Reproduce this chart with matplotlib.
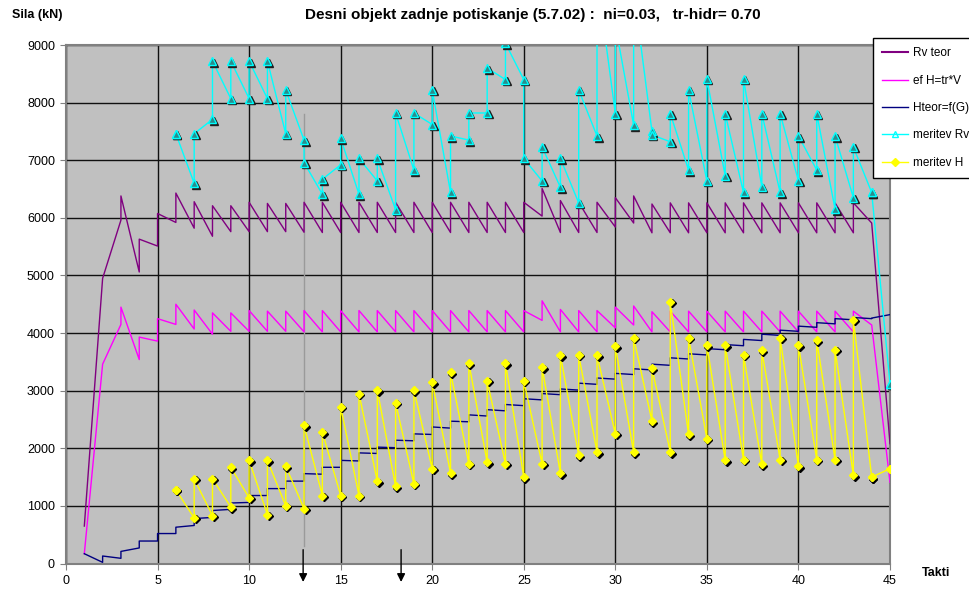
import matplotlib.pyplot as plt
from matplotlib.lines import Line2D
from matplotlib.transforms import offset_copy

plt.rcParams['font.family'] = ['Liberation Sans', 'DejaVu Sans']

# takti 1..45; for every takt the value reached and the value after the jump
takt = list(range(1, 46))

rv_in = [650, 4950, 5960, 5060, 5510, 5920, 5820, 5680, 5760, 5760, 5760, 5760, 5750,
         5745, 5745, 5745, 5745, 5745, 5745, 5745, 5745, 5745, 5745, 5745,
         5745, 6030, 5745, 5745, 5745, 5840, 5910, 5740,
         5740, 5740, 5740, 5740, 5740, 5740, 5740, 5740, 5740, 5740, 5740,
         5910, 2080]
rv_out = [650, 4950, 6380, 5630, 6075, 6430, 6280, 6210, 6210, 6270, 6250, 6250, 6270,
          6270, 6270, 6270, 6270, 6270, 6270, 6270, 6270, 6270, 6270, 6270,
          6270, 6510, 6300, 6270, 6270, 6350, 6380, 6240,
          6260, 6260, 6260, 6260, 6260, 6260, 6260, 6260, 6260, 6260, 6260,
          5910, 2080]

efh_in = [170, 3460, 4150, 3540, 3860, 4150, 4070, 3980, 4030, 4030, 4030, 4030, 4020,
          4020, 4020, 4020, 4020, 4020, 4020, 4020, 4020, 4020, 4020, 4020,
          4020, 4220, 4020, 4020, 4020, 4090, 4140, 4020,
          4020, 4020, 4020, 4020, 4020, 4020, 4020, 4020, 4020, 4020, 4020,
          4140, 1410]
efh_out = [170, 3460, 4450, 3930, 4250, 4500, 4400, 4350, 4350, 4390, 4380, 4380, 4390,
           4390, 4390, 4390, 4390, 4390, 4390, 4390, 4390, 4390, 4390, 4390,
           4390, 4560, 4410, 4390, 4390, 4450, 4470, 4370,
           4380, 4380, 4380, 4380, 4380, 4380, 4380, 4380, 4380, 4380, 4380,
           4140, 1410]

hteor_in = [170, 20, 90, 270, 390, 520, 660, 800, 940, 1060, 1180, 1300, 1430,
            1550, 1670, 1780, 1910, 2010, 2130, 2240, 2350, 2460, 2560, 2650,
            2740, 2840, 2930, 3010, 3110, 3200, 3280, 3360, 3440, 3550, 3620,
            3710, 3780, 3870, 3960, 4030, 4100, 4160, 4230, 4250, 4320]
hteor_out = [170, 130, 210, 390, 520, 630, 780, 920, 1050, 1180, 1300, 1430, 1560,
             1670, 1790, 1920, 2020, 2140, 2250, 2370, 2470, 2580, 2670, 2760,
             2860, 2950, 3030, 3130, 3220, 3300, 3380, 3460, 3570, 3640, 3730,
             3800, 3890, 3980, 4050, 4120, 4180, 4250, 4270, 4260, 4320]

# measurements, takti 6..45
meas_takt = list(range(6, 46))

mrv_in = [7460, 6600, 7710, 8070, 8070, 8070, 7460, 7350, 6410, 6920,
          6410, 6640, 6140, 6830, 7620, 6440, 7350, 7820, 8400, 8400,
          6640, 6530, 6260, 7420, 7810, 7610, 7500, 7320, 6830, 6640,
          6730, 6440, 6540, 6440, 6640, 6830, 6150, 6350, 6440, 3120]
mrv_out = [7460, 7460, 8720, 8720, 8720, 8720, 8220, 6960, 6670, 7380,
           7030, 7030, 7820, 7820, 8220, 7420, 7820, 8600, 9030, 7030,
           7230, 7030, 8220, 10190, 9350, 9970, 7440, 7810, 8220, 8410,
           7810, 8410, 7810, 7810, 7420, 7810, 7420, 7230, 6440, 3120]

mh_in = [1280, 790, 830, 980, 1140, 850, 1000, 950, 1180, 1180,
         1180, 1430, 1340, 1380, 1645, 1570, 1730, 1760, 1730, 1500,
         1730, 1565, 1880, 1935, 2250, 1935, 2470, 1935, 2240, 2165,
         1790, 1800, 1720, 1800, 1685, 1800, 1800, 1530, 1500, 1645]
mh_out = [1280, 1470, 1470, 1670, 1790, 1790, 1690, 2400, 2280, 2720,
          2950, 3010, 2790, 3010, 3150, 3320, 3480, 3170, 3480, 3170,
          3410, 3615, 3620, 3615, 3770, 3920, 3390, 4540, 3920, 3790,
          3790, 3625, 3700, 3920, 3790, 3875, 3710, 4235, 1500, 1645]

arrow_takt = [12.95, 18.3]


def saw(xs, a, b):
    x, y = [], []
    for k, p, q in zip(xs, a, b):
        x += [k, k]
        y += [p, q]
    return x, y


fig = plt.figure(figsize=(9.7, 5.9), dpi=100)
ax = fig.add_axes([66 / 970, 1 - 563.5 / 590, 824 / 970, 518.5 / 590])
ax.set_facecolor('#c0c0c0')

c_rv, c_ef, c_ht, c_mrv, c_mh = '#800080', '#ff00ff', '#000080', '#00ffff', '#ffff00'

# grey marker line at takt 13
ax.plot([13, 13], [7810, 300], color='#9a9a9a', lw=1, zorder=2)

x, y = saw(takt, rv_in, rv_out)
ax.plot(x, y, color=c_rv, lw=1, zorder=3)
x, y = saw(takt, efh_in, efh_out)
ax.plot(x, y, color=c_ef, lw=1, zorder=3)
x, y = saw(takt, hteor_in, hteor_out)
ax.plot(x, y, color=c_ht, lw=1, zorder=3)

# measured Rv: cyan triangles
x, y = saw(meas_takt, mrv_in, mrv_out)
shadow = offset_copy(ax.transData, fig=fig, x=1.5, y=-1.5, units='dots')
ax.plot(x, y, color=c_mrv, lw=1, zorder=4)
ax.plot(x, y, ls='none', marker='^', ms=5.5, mfc='#1f1f1f', mec='#1f1f1f',
        transform=shadow, zorder=4)
ax.plot(x, y, ls='none', marker='^', ms=5.5, mfc='#2a8c8c', mec=c_mrv, mew=1, zorder=5)

# measured H: yellow diamonds
x, y = saw(meas_takt, mh_in, mh_out)
ax.plot(x, y, color=c_mh, lw=1, zorder=4)
ax.plot(x, y, ls='none', marker='D', ms=4.2, mfc='k', mec='k',
        transform=shadow, zorder=4)
ax.plot(x, y, ls='none', marker='D', ms=4.2, mfc=c_mh, mec=c_mh, zorder=5)

ax.set_xlim(0, 45)
ax.set_ylim(0, 9000)
ax.set_xticks(range(0, 46, 5))
ax.set_yticks(range(0, 9001, 1000))
ax.grid(True, color='#101010', lw=1)
ax.set_axisbelow(True)
for s in ax.spines.values():
    s.set_color('#808080')
    s.set_linewidth(1.5)
ax.tick_params(labelsize=9, length=4, color='#808080', pad=4)

# arrows under the axis
for t in arrow_takt:
    ax.annotate('', xy=(t, -0.041), xytext=(t, 0.032),
                xycoords=('data', 'axes fraction'), textcoords=('data', 'axes fraction'),
                arrowprops=dict(arrowstyle='-|>', color='k', lw=1, mutation_scale=12),
                annotation_clip=False)

fig.text(533 / 970, 1 - 15 / 590, 'Desni objekt zadnje potiskanje (5.7.02) :  ni=0.03,   tr-hidr= 0.70',
         ha='center', va='center', fontsize=11, fontweight='bold')
fig.text(12 / 970, 1 - 15 / 590, 'Sila (kN)', ha='left', va='center', fontsize=9, fontweight='bold')
fig.text(936 / 970, 1 - 573 / 590, 'Takti', ha='center', va='center', fontsize=9, fontweight='bold')

handles = [
    Line2D([], [], color=c_rv, lw=1.5),
    Line2D([], [], color=c_ef, lw=1),
    Line2D([], [], color=c_ht, lw=1),
    Line2D([], [], color=c_mrv, lw=1, marker='^', ms=5, mfc='none', mec=c_mrv),
    Line2D([], [], color=c_mh, lw=1, marker='D', ms=4, mfc=c_mh, mec=c_mh),
]
labels = ['Rv teor', 'ef H=tr*V', 'Hteor=f(G)', 'meritev Rv', 'meritev H']
leg = fig.legend(handles, labels, loc='upper left', bbox_to_anchor=(873 / 970, 1 - 38 / 590),
                 fontsize=8.5, frameon=True, fancybox=False, edgecolor='k', framealpha=1,
                 handlelength=2.2, handletextpad=0.4, labelspacing=1.3, borderpad=0.8,
                 borderaxespad=0)
leg.get_frame().set_linewidth(1)

fig.savefig('out.png', dpi=100)
